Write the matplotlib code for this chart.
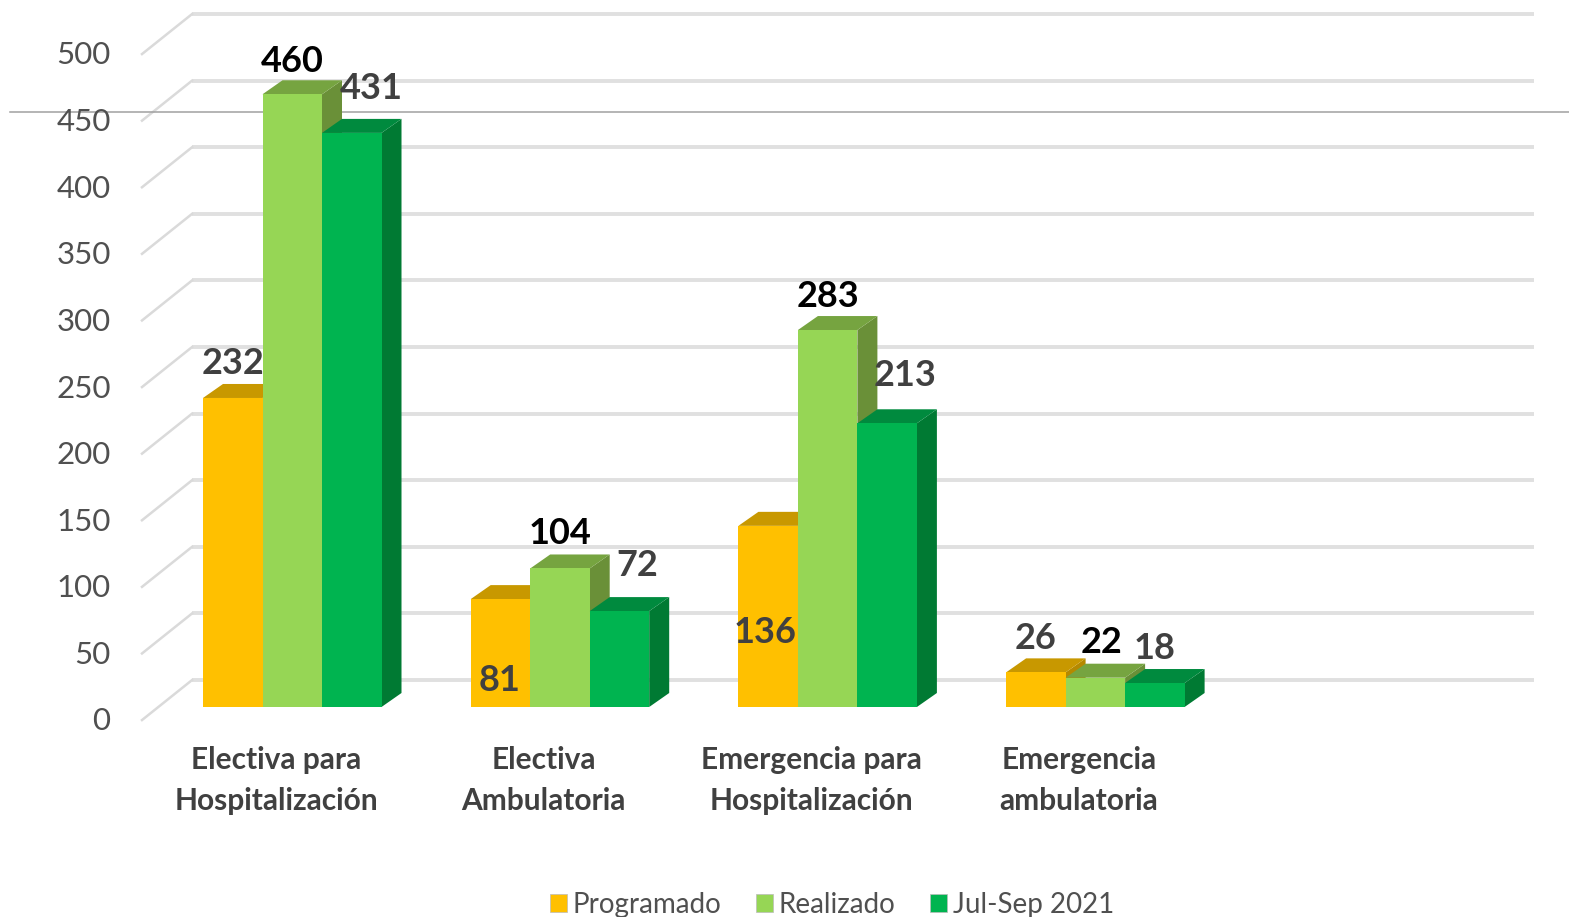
import matplotlib
matplotlib.use('Agg')
import matplotlib.pyplot as plt
from matplotlib.patches import Patch
from matplotlib.transforms import ScaledTranslation

plt.rcParams['font.family'] = ['Lato', 'DejaVu Sans']

categories = ['Electiva para\nHospitalización', 'Electiva\nAmbulatoria',
              'Emergencia para\nHospitalización', 'Emergencia\nambulatoria']
series_names = ['Programado', 'Realizado', 'Jul-Sep 2021']
programado = [232, 81, 136, 26]
realizado = [460, 104, 283, 22]
julsep = [431, 72, 213, 18]
y_ticks = [0, 50, 100, 150, 200, 250, 300, 350, 400, 450, 500]

front_colors = ['#FFC000', '#96D655', '#00B450']
top_colors = ['#C89800', '#76A440', '#008A3E']
side_colors = ['#B58900', '#6A9038', '#007A33']
label_colors = ['#404040', '#000000', '#404040']

# label offset from the bar's top centre, in pixels (right, up)
label_offsets = [
    [(0, 34), (-1, -81), (-3, -107), (0, 34)],
    [(0, 33), (0, 35), (0, 34), (6, 35)],
    [(20, 44), (18, 46), (18, 48), (0, 35)],
]

W, H = 1569, 917
px_x = 267.7   # pixels per category
px_y = 1.332   # pixels per unit

fig = plt.figure(figsize=(W / 100, H / 100), dpi=100)
ax = fig.add_axes([142 / W, (H - 707) / H, (1534 - 142) / W, 1.332 * 520 / H])
ax.set_xlim((142 - 203) / px_x, (1534 - 203) / px_x)
ax.set_ylim(0, 520)
for s in ax.spines.values():
    s.set_visible(False)

dx = 20 / px_x
dy = 14 / px_y
bar_w = 59.5 / px_x

# back wall gridlines + the slanted bit on the left
wall_x0 = (192 - 203) / px_x
wall_x1 = (1534 - 203) / px_x
left_x = (142 - 203) / px_x
for v in y_ticks:
    ax.plot([wall_x0, wall_x1], [v + 20.2, v + 20.2], color='#E0E0E0', lw=2.8,
            clip_on=False, zorder=1, solid_capstyle='butt')
    ax.plot([left_x, wall_x0], [v - 9.8, v + 20.2], color='#DADADA', lw=1.8,
            clip_on=False, zorder=1)

# stray thin line across the picture
ax.plot([(10 - 203) / px_x, (1569 - 203) / px_x], [447, 447], color='#A0A0A0', lw=1.1,
        clip_on=False, zorder=1.5)

z = 2
for i in range(len(categories)):
    for j, vals in enumerate([programado, realizado, julsep]):
        v = vals[i]
        x0 = i + j * bar_w
        x1 = x0 + bar_w
        ax.fill([x1, x1 + dx, x1 + dx, x1], [0, dy, v + dy, v], color=side_colors[j],
                lw=0, clip_on=False, zorder=z)
        ax.fill([x0, x1, x1 + dx, x0 + dx], [v, v, v + dy, v + dy], color=top_colors[j],
                lw=0, clip_on=False, zorder=z)
        ax.bar(x0, v, width=bar_w, align='edge', color=front_colors[j], lw=0,
               clip_on=False, zorder=z)
        z += 0.1

# data labels go on top of everything
for j, vals in enumerate([programado, realizado, julsep]):
    for i, v in enumerate(vals):
        off = label_offsets[j][i]
        ax.annotate(str(v), (i + (j + 0.5) * bar_w, v), xytext=(off[0] * 0.72, off[1] * 0.72),
                    textcoords='offset points', ha='center', va='center',
                    fontsize=26, fontweight='bold', color=label_colors[j], zorder=20,
                    annotation_clip=False)

ax.set_yticks(y_ticks)
ax.tick_params(axis='y', length=0, pad=22.6, labelsize=22.5, labelcolor='#505050')
ax.set_xticks([(276 - 203) / px_x + i for i in range(len(categories))])
ax.set_xticklabels(categories, fontsize=21.5, fontweight='bold', color='#404040', linespacing=1.56)
ax.tick_params(axis='x', length=0, pad=28.2)

shift = ScaledTranslation(0, -12 / 100, fig.dpi_scale_trans)
for lab in ax.get_yticklabels():
    lab.set_transform(lab.get_transform() + shift)

handles = [Patch(facecolor=c, edgecolor='#BBBBBB', lw=0.5) for c in front_colors]
fig.legend(handles, series_names, loc='center', bbox_to_anchor=(832 / W, (H - 905) / H), ncol=3,
           frameon=False, fontsize=20, labelcolor='#505050', handlelength=0.62, handleheight=0.62,
           handletextpad=0.2, columnspacing=1.25, borderpad=0)

fig.savefig('out.png', dpi=100, facecolor='white')
